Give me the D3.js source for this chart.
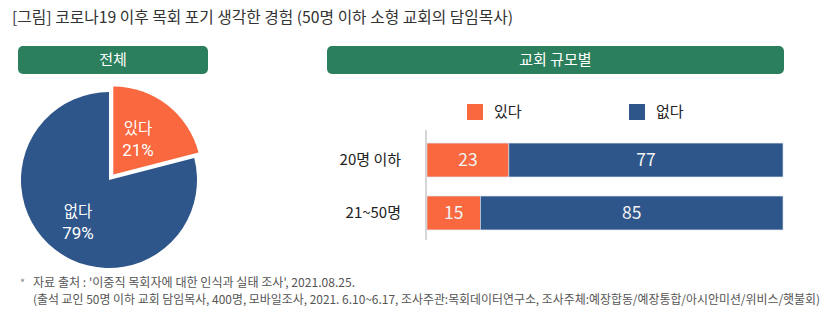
<!DOCTYPE html>
<html>
<head>
<meta charset="utf-8">
<script src="https://cdn.jsdelivr.net/npm/d3@7"></script>
<style>
  html, body { margin: 0; padding: 0; background: #fff; }
  svg { display: block; }
  text { font-family: "Noto Sans CJK KR", "Noto Sans", sans-serif; }
</style>
</head>
<body>
<svg id="chart" width="835" height="322"></svg>
<script>
// ----- data -----
const answers = ["있다", "없다"];
const totalShares = [21, 79];
const sizeGroups = ["20명 이하", "21~50명"];
const yesShares = [23, 15];
const noShares = [77, 85];

const titleText = "[그림] 코로나19 이후 목회 포기 생각한 경험 (50명 이하 소형 교회의 담임목사)";
const panelTitles = ["전체", "교회 규모별"];
const noteLines = [
  "자료 출처 : '이중직 목회자에 대한 인식과 실태 조사', 2021.08.25.",
  "(출석 교인 50명 이하 교회 담임목사, 400명, 모바일조사, 2021. 6.10~6.17, 조사주관:목회데이터연구소, 조사주체:예장합동/예장통합/아시안미션/위비스/햇불회)"
];

const colors = { yes: "#F9683F", no: "#2E568A", band: "#2B7F5D" };
const colorScale = d3.scaleOrdinal().domain(answers).range([colors.yes, colors.no]);

const svg = d3.select("#chart");

// ----- title -----
svg.append("text")
  .attr("x", 12).attr("y", 23)
  .attr("font-size", 15.5)
  .attr("fill", "#333")
  .attr("textLength", 501).attr("lengthAdjust", "spacingAndGlyphs")
  .text(titleText);

// ----- panel headers -----
const bands = [
  { x: 18, w: 190 },
  { x: 327, w: 457 }
];
bands.forEach((b, i) => {
  svg.append("rect")
    .attr("x", b.x).attr("y", 46).attr("width", b.w).attr("height", 28)
    .attr("rx", 5).attr("fill", colors.band);
  svg.append("text")
    .attr("x", b.x + b.w / 2).attr("y", 60)
    .attr("dy", "0.36em")
    .attr("text-anchor", "middle")
    .attr("font-size", 15)
    .attr("fill", "#fff")
    .text(panelTitles[i]);
});

// ----- pie: overall -----
const cx = 109, cy = 180, radius = 88;
const pie = d3.pie().sort(null).value(d => d.v);
const arcs = pie(answers.map((a, i) => ({ a, v: totalShares[i] })));
const arc = d3.arc().innerRadius(0).outerRadius(radius);
const explode = 7;

const pieG = svg.append("g").attr("transform", `translate(${cx},${cy})`);
arcs.forEach((d, i) => {
  const mid = (d.startAngle + d.endAngle) / 2;
  const off = i === 0 ? explode : 0;
  const dx = Math.sin(mid) * off, dy = -Math.cos(mid) * off;
  const g = pieG.append("g").attr("transform", `translate(${dx},${dy})`);
  g.append("path").attr("d", arc(d)).attr("fill", colorScale(d.data.a));
});

// slice labels (name above, share below)
const sliceLabelAt = [[29, -41], [-31, 42]];
arcs.forEach((d, i) => {
  const [lx, ly] = sliceLabelAt[i];
  const t = pieG.append("text")
    .attr("text-anchor", "middle")
    .attr("fill", "#fff")
    .attr("font-size", 15.5);
  t.append("tspan").attr("x", lx).attr("y", ly - 5).text(d.data.a);
  t.append("tspan").attr("x", lx).attr("y", ly + 17)
    .attr("font-family", "Roboto, sans-serif")
    .attr("font-size", 17)
    .text(d.data.v + "%");
});

// ----- stacked bars by size -----
const x = d3.scaleLinear().domain([0, 100]).range([427, 783]);
const y = d3.scaleBand().domain(sizeGroups).range([133, 240])
  .paddingInner(0.36).paddingOuter(0.19);

const rows = sizeGroups.map((g, i) => ({ g, yes: yesShares[i], no: noShares[i] }));
const stack = d3.stack().keys(["yes", "no"]);
const series = stack(rows);

series.forEach(s => {
  const key = s.key;
  s.forEach(d => {
    const x0 = x(d[0]), x1 = x(d[1]);
    svg.append("rect")
      .attr("x", x0).attr("y", y(d.data.g))
      .attr("width", x1 - x0).attr("height", y.bandwidth())
      .attr("fill", key === "yes" ? colors.yes : colors.no)
      .attr("stroke", "#d8e0ec").attr("stroke-width", 0.6);
    svg.append("text")
      .attr("x", (x0 + x1) / 2)
      .attr("y", y(d.data.g) + y.bandwidth() / 2)
      .attr("dy", "0.36em")
      .attr("text-anchor", "middle")
      .attr("font-family", "Roboto, sans-serif")
      .attr("font-size", 17.5)
      .attr("fill", "#f2f2f2")
      .text(d.data[key]);
  });
});

// category axis
const yAxis = svg.append("g").attr("transform", "translate(426,0)")
  .call(d3.axisLeft(y).tickSize(0).tickPadding(25));
yAxis.select(".domain").attr("d", "M0,130V240").attr("stroke", "#c8c8c8").attr("stroke-width", 1.5);
yAxis.selectAll(".tick text")
  .attr("font-family", "\"Noto Sans CJK KR\", sans-serif")
  .attr("font-size", 15)
  .attr("fill", "#222");

// legend
const legendItems = [
  { a: answers[0], x: 467 },
  { a: answers[1], x: 629 }
];
legendItems.forEach(l => {
  svg.append("rect")
    .attr("x", l.x).attr("y", 104).attr("width", 16).attr("height", 16)
    .attr("fill", colorScale(l.a));
  svg.append("text")
    .attr("x", l.x + 27).attr("y", 112)
    .attr("dy", "0.36em")
    .attr("font-size", 15)
    .attr("fill", "#222")
    .text(l.a);
});

// ----- source note -----
svg.append("text")
  .attr("x", 20).attr("y", 287)
  .attr("font-size", 11).attr("fill", "#888")
  .text("*");
svg.append("text")
  .attr("x", 33).attr("y", 287)
  .attr("font-size", 12).attr("fill", "#555")
  .attr("textLength", 322).attr("lengthAdjust", "spacingAndGlyphs")
  .text(noteLines[0]);
svg.append("text")
  .attr("x", 33).attr("y", 304)
  .attr("font-size", 12).attr("fill", "#555")
  .attr("textLength", 787).attr("lengthAdjust", "spacingAndGlyphs")
  .text(noteLines[1]);
</script>
</body>
</html>
